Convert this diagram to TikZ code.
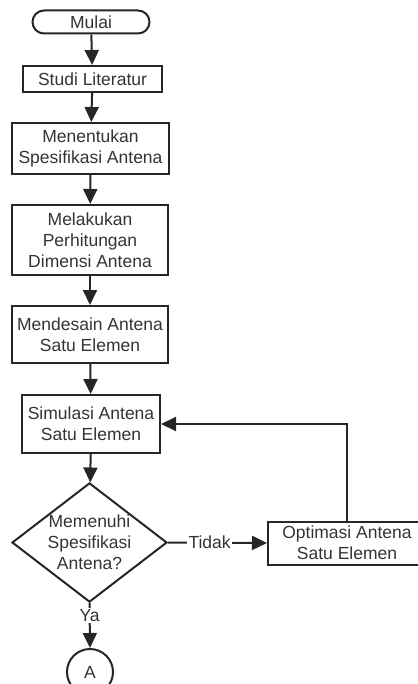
\documentclass[tikz,border=0pt]{standalone}
\usepackage{fontspec}
\setmainfont{Liberation Sans}
\usetikzlibrary{arrows.meta}
\usetikzlibrary{shapes.geometric}

\tikzset{
  proses/.style={draw=black!85, line width=1pt, inner sep=0pt, align=center, text=black!80,
    font=\fontsize{8.75}{10.5}\selectfont},
  keputusan/.style={proses, diamond, aspect=1.3},
  panah/.style={draw=black!85, line width=1pt, -{Triangle[length=7.5pt,width=7pt]}},
  label/.style={fill=white, inner sep=0.6pt, text=black!80, font=\fontsize{8.75}{10.5}\selectfont},
}

\begin{document}
\begin{tikzpicture}[x=0.5pt,y=-0.5pt]
      \useasboundingbox (0,0) rectangle (417,684);
      \node [proses, rounded corners=5.75pt, minimum width=58.5pt, minimum height=11.5pt] (mulai) at (91,22) {Mulai};
      \node [proses, minimum width=69.5pt, minimum height=13pt] (studi) at (92.5,79) {Studi Literatur};
      \node [proses, minimum width=78.5pt, minimum height=25.5pt] (spek) at (90.5,148.5) {Menentukan\\Spesifikasi Antena};
      \node [proses, minimum width=78pt, minimum height=35pt] (hitung) at (90,240) {Melakukan\\Perhitungan\\Dimensi Antena};
      \node [proses, minimum width=78pt, minimum height=28.5pt] (desain) at (90,334.5) {Mendesain Antena\\Satu Elemen};
      \node [proses, minimum width=69pt, minimum height=29pt] (simulasi) at (91,424) {Simulasi Antena\\Satu Elemen};
      \node [keputusan, minimum width=77.5pt, minimum height=59.5pt] (cek) at (89.5,542.5) {Memenuhi\\Spesifikasi\\Antena?};
      \node [proses, minimum width=79pt, minimum height=21.5pt] (optimasi) at (347,543) {Optimasi Antena\\Satu Elemen};
      \node [proses, circle, minimum size=23pt] (A) at (90,672) {A};
      \draw [panah] (mulai) -- (studi);
      \draw [panah] (studi) -- (spek);
      \draw [panah] (spek) -- (hitung);
      \draw [panah] (hitung) -- (desain);
      \draw [panah] (desain) -- (simulasi);
      \draw [panah] (simulasi) -- (cek);
      \draw [panah] (cek.east) -- (optimasi.west) node [label, pos=0.42] {Tidak};
      \draw [panah] (cek.south) -- (A.north) node [label, pos=0.27] {Ya};
      \draw [panah] (optimasi.north) |- (simulasi.east);
    \end{tikzpicture}
\end{document}
